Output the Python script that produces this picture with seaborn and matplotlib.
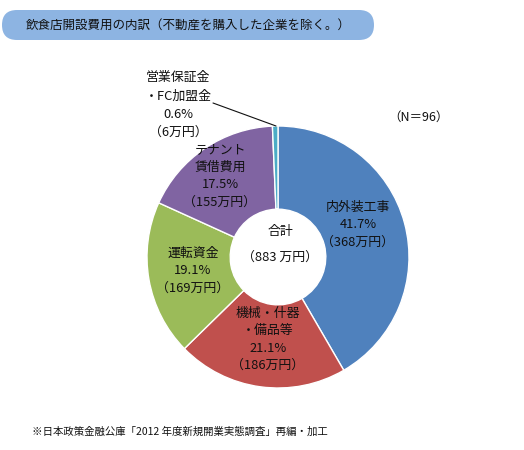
import matplotlib
matplotlib.use("Agg")
import matplotlib.pyplot as plt
from matplotlib.patches import FancyBboxPatch
import seaborn as sns

categories = ["内外装工事", "機械・什器\n・備品等", "運転資金", "テナント\n賃借費用", "営業保証金\n・FC加盟金"]
amounts = [368, 186, 169, 155, 6]  # 万円
percents = ["41.7%", "21.1%", "19.1%", "17.5%", "0.6%"]
total_label = "（883 万円）"
title = "飲食店開設費用の内訳（不動産を購入した企業を除く。）"
n_label = "（N＝96）"
source = "※日本政策金融公庫「2012 年度新規開業実態調査」再編・加工"

sns.set_theme(style="white")
plt.rcParams['font.family'] = ['Noto Sans CJK JP', 'DejaVu Sans']

colors = ["#4F81BD", "#C0504D", "#9BBB59", "#8064A2", "#4BACC6"]

W, H = 524, 450
fig = plt.figure(figsize=(W / 100, H / 100), dpi=100)
ax = fig.add_axes([0, 0, 1, 1])
ax.set_xlim(0, W)
ax.set_ylim(0, H)
ax.set_aspect("equal")
ax.axis("off")

def Y(y):
    return H - y

cx, cy, R = 278, 257, 131
ax.pie(amounts, colors=colors, startangle=90, counterclock=False,
       center=(cx, Y(cy)), radius=R,
       wedgeprops=dict(width=R * 0.635, edgecolor="white", linewidth=1.0))
ax.set_xlim(0, W)
ax.set_ylim(0, H)

# title pill
box = FancyBboxPatch((2, Y(40)), 372, 30, boxstyle="round,pad=0,rounding_size=15",
                     facecolor="#8DB4E2", edgecolor="none")
ax.add_patch(box)
ax.text(188, Y(25), title, ha="center", va="center", fontsize=9, color="#111111")

ax.text(418, Y(117), n_label, ha="center", va="center", fontsize=9, color="#111111")

fs = 9.3
def label(x, y, lines, dy=17.5):
    for i, t in enumerate(lines):
        ax.text(x, Y(y + i * dy), t, ha="center", va="center", fontsize=fs, color="#111111")

def lines_for(i):
    return categories[i].split("\n") + [percents[i], f"（{amounts[i]}万円）"]

label(358, 207, lines_for(0))
label(268, 313, lines_for(1))
label(193, 253, lines_for(2))
label(220, 150, lines_for(3))
label(178, 78, lines_for(4), dy=18)

ax.plot([213, 276], [Y(103), Y(126)], color="#111111", lw=0.8)

ax.text(280, Y(232), "合計", ha="center", va="center", fontsize=fs, color="#111111")
ax.text(280, Y(257), total_label, ha="center", va="center", fontsize=fs, color="#111111")

ax.text(32, Y(432), source, ha="left", va="center", fontsize=7.5, color="#111111")

fig.savefig("out.png", dpi=100)
